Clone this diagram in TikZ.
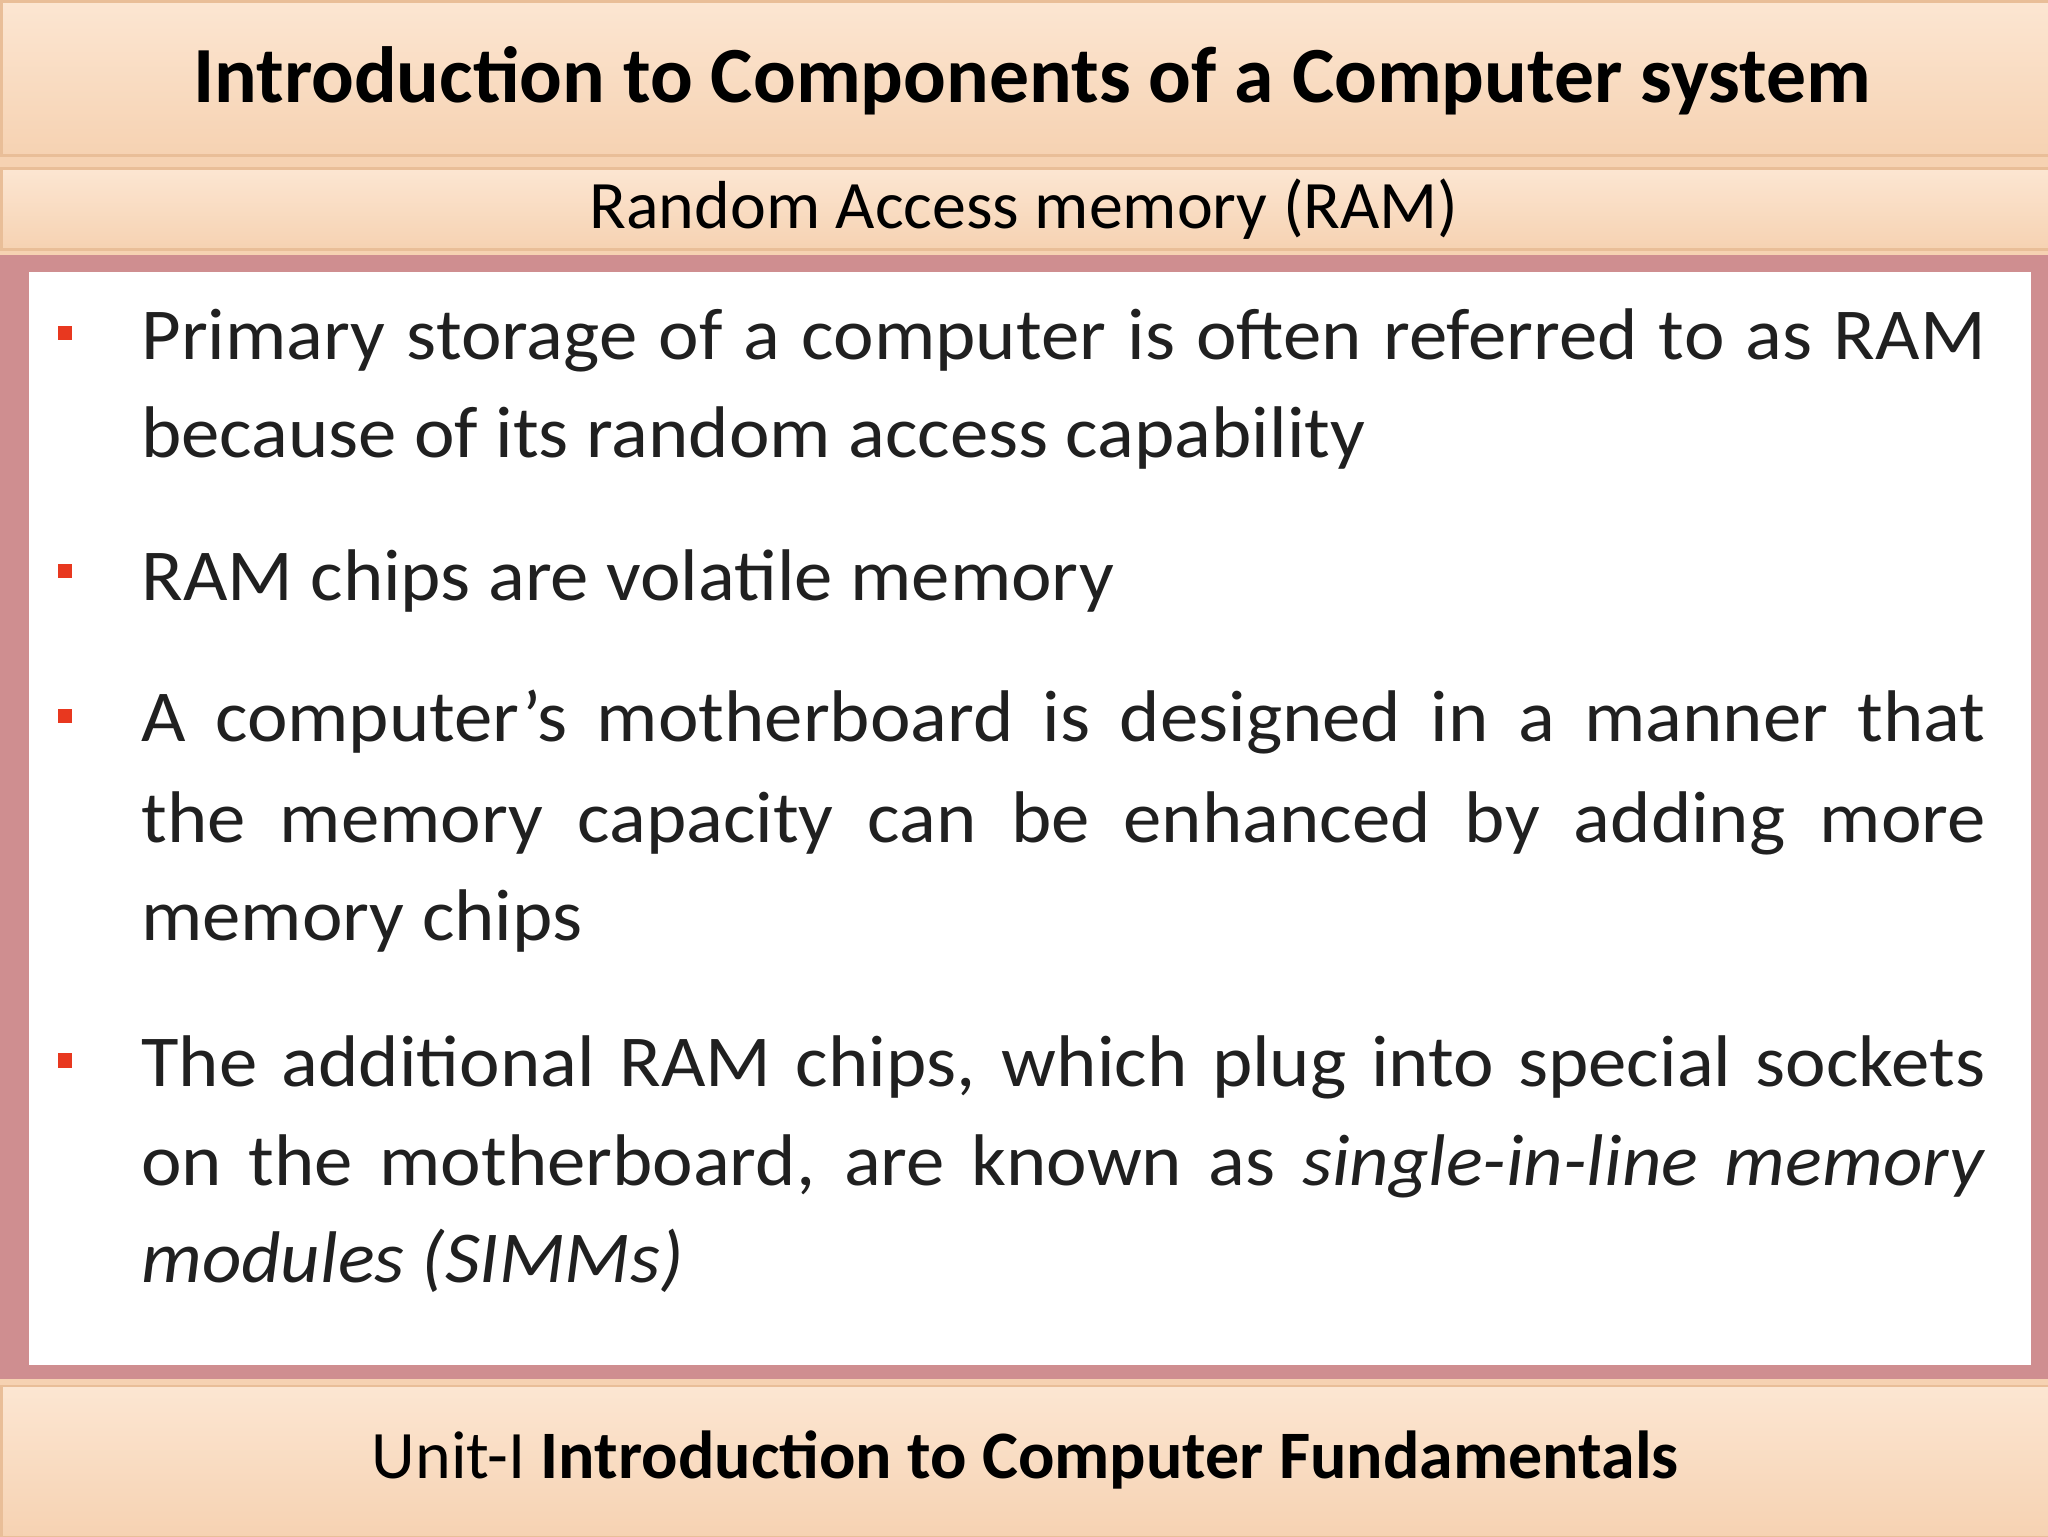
\documentclass[tikz,border=0pt]{standalone}
\usepackage{fontspec}
\setmainfont{Carlito}
\newfontfamily\bodyf[FakeStretch=1.05]{Carlito}
\definecolor{peach}{HTML}{F6D2B2}
\definecolor{peachL}{HTML}{FCE6D2}
\definecolor{peachD}{HTML}{E9BE98}
\definecolor{rose}{HTML}{CF8E90}
\definecolor{bred}{HTML}{E8381F}
\definecolor{txt}{HTML}{202020}
\tikzset{band/.style={top color=peachL,bottom color=peach,draw=peachD,line width=2pt},
 bl/.style={anchor=base west,inner sep=0pt,font=\bodyf\fontsize{56}{60}\selectfont,text=txt},
 bullet/.style={fill=bred,minimum size=11pt,inner sep=0pt}}
\newcommand{\fl}[1]{\makebox[1412pt][s]{#1}}
\begin{document}
\begin{tikzpicture}[x=1pt,y=-1pt]
\useasboundingbox (0,0) rectangle (1568,1176);
\fill[peach] (0,0) rectangle (1568,1176);
\node[band,minimum width=1568pt,minimum height=118pt,anchor=north west] (tb) at (0,0) {};
\node[font=\fontsize{61}{66}\selectfont\bfseries] (title) at (790,62) {Introduction to Components of a Computer system};
\node[band,minimum width=1568pt,minimum height=62pt,anchor=north west] (sb) at (0,128) {};
\node[font=\fontsize{52}{56}\selectfont] (sub) at (784,160) {Random Access memory (RAM)};
\fill[rose] (0,195) rectangle (1568,1056);
\node[fill=white,minimum width=1533pt,minimum height=837pt,anchor=north west,inner sep=0pt] (body) at (22,208) {};
\node[band,minimum width=1568pt,minimum height=116pt,anchor=north west] (fb) at (0,1060) {};
\node[font=\fontsize{52}{56}\selectfont] (foot) at (785,1118) {Unit-I \textbf{Introduction to Computer Fundamentals}};
\foreach \y/\n in {255/a,437/b,548/c,812/d} \node[bullet] (b\n) at (50,\y) {};
\node[bl] (l1) at (108,275) {\fl{Primary storage of a computer is often referred to as RAM}};
\node[bl] (l2) at (108,350) {because of its random access capability};
\node[bl] (l3) at (108,460) {RAM chips are volatile memory};
\node[bl] (l4) at (108,568) {\fl{A computer’s motherboard is designed in a manner that}};
\node[bl] (l5) at (108,645) {\fl{the memory capacity can be enhanced by adding more}};
\node[bl] (l6) at (108,720) {memory chips};
\node[bl] (l7) at (108,832) {\fl{The additional RAM chips, which plug into special sockets}};
\node[bl] (l8) at (108,908) {\fl{on the motherboard, are known as \textit{single-in-line memory}}};
\node[bl] (l9) at (108,982) {\textit{modules (SIMMs)}};
\end{tikzpicture}
\end{document}
